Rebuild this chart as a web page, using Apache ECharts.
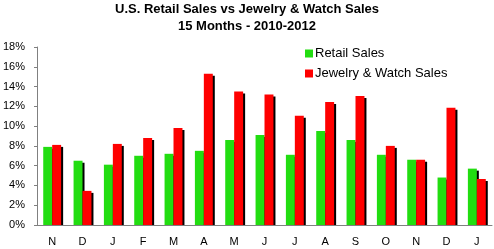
<!DOCTYPE html>
<html><head><meta charset="utf-8">
<script src="https://cdn.jsdelivr.net/npm/echarts@6/dist/echarts.min.js"></script>
<style>html,body{margin:0;padding:0;background:#fff}#c{width:494px;height:249px}</style>
</head><body><div id="c"></div>
<script>
var categories = ['N','D','J','F','M','A','M','J','J','A','S','O','N','D','J'];
var retailSales = [7.9,6.5,6.1,7.0,7.2,7.5,8.6,9.1,7.1,9.5,8.6,7.1,6.6,4.8,5.7];
var jewelrySales = [8.1,3.45,8.2,8.8,9.8,15.3,13.5,13.2,11.05,12.45,13.05,8.0,6.6,11.85,4.65];
var seriesNames = ['Retail Sales','Jewelry & Watch Sales'];

var chart = echarts.init(document.getElementById('c'), null, {renderer:'canvas'});
var shadow = {shadowColor:'#000', shadowBlur:0, shadowOffsetX:2, shadowOffsetY:2};
chart.setOption({
  animation:false,
  title:{text:'U.S. Retail Sales vs Jewelry & Watch Sales\n15 Months - 2010-2012', left:'center', top:1, padding:0,
    textStyle:{fontFamily:'Liberation Sans', fontWeight:'bold', fontSize:13, lineHeight:17, color:'#000'}},
  legend:{orient:'vertical', left:300, top:42, itemWidth:8, itemHeight:8, itemGap:7,
    icon:'rect', textStyle:{fontFamily:'Liberation Sans', fontSize:13, color:'#000', padding:[0,0,0,-3]},
    data:seriesNames},
  grid:{left:35, right:2, top:47, bottom:24},
  graphic:[{type:'rect', z:5, shape:{x:36, y:226, width:458, height:4}, style:{fill:'#fff'}}],
  xAxis:{type:'category', data:categories, z:10,
    axisLine:{lineStyle:{color:'#808080'}},
    axisTick:{length:3, lineStyle:{color:'#808080'}},
    axisLabel:{fontFamily:'Liberation Sans', fontSize:11, color:'#000', margin:11}},
  yAxis:{type:'value', min:0, max:18, interval:2, z:10,
    axisLine:{show:true, lineStyle:{color:'#808080'}},
    axisTick:{show:true, length:3, lineStyle:{color:'#808080'}},
    splitLine:{show:false},
    axisLabel:{formatter:'{value}%', fontFamily:'Liberation Sans', fontSize:11, color:'#000', margin:12}},
  series:[
    {name:seriesNames[0], type:'bar', data:retailSales, barGap:'0%', barCategoryGap:'41%',
      itemStyle:Object.assign({color:'#22dd11'}, shadow)},
    {name:seriesNames[1], type:'bar', data:jewelrySales,
      itemStyle:Object.assign({color:'#ff0000'}, shadow)}
  ]
});
</script></body></html>
